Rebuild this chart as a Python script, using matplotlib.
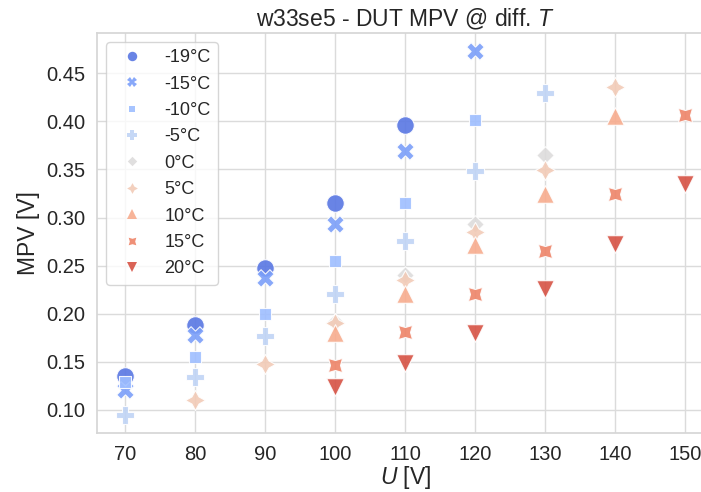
import matplotlib
matplotlib.use("Agg")
import matplotlib.pyplot as plt
import matplotlib.lines as mlines
import numpy as np
import seaborn as sns

sns.set_theme(style="whitegrid", rc={"grid.color": "0.86", "axes.edgecolor": "0.84"})
plt.rcParams["font.family"] = ["Liberation Sans", "DejaVu Sans"]
plt.rcParams["mathtext.fontset"] = "custom"
plt.rcParams["mathtext.it"] = "Liberation Sans:italic"
plt.rcParams["mathtext.rm"] = "Liberation Sans"

TEMPS = [-19, -15, -10, -5, 0, 5, 10, 15, 20]
TEMP_LABELS = [f"{t}°C" for t in TEMPS]

# bias voltage [V] and most probable value [V] per temperature
VOLTAGES = {
    -19: [70, 80, 90, 100, 110],
    -15: [70, 80, 90, 100, 110, 120],
    -10: [70, 80, 90, 100, 110, 120],
    -5: [70, 80, 90, 100, 110, 120, 130],
    0: [100, 110, 120, 130],
    5: [80, 90, 100, 110, 120, 130, 140],
    10: [100, 110, 120, 130, 140],
    15: [100, 110, 120, 130, 140, 150],
    20: [100, 110, 120, 130, 140, 150],
}
MPV = {
    -19: [0.135, 0.188, 0.248, 0.315, 0.396],
    -15: [0.121, 0.178, 0.237, 0.293, 0.369, 0.473],
    -10: [0.129, 0.155, 0.200, 0.255, 0.315, 0.401],
    -5: [0.095, 0.134, 0.177, 0.221, 0.276, 0.348, 0.429],
    0: [0.191, 0.240, 0.293, 0.365],
    5: [0.110, 0.148, 0.190, 0.235, 0.285, 0.349, 0.436],
    10: [0.180, 0.221, 0.271, 0.325, 0.406],
    15: [0.147, 0.181, 0.221, 0.265, 0.325, 0.407],
    20: [0.124, 0.149, 0.180, 0.226, 0.273, 0.335],
}

MARKERS = ["o", "X", (4, 0, 45), "P", (4, 0, 0), (4, 1, 0), "^", (4, 1, 45), "v"]
# star shaped markers look small at equal area, so bump them a bit
SIZE_SCALE = [1.0, 1.0, 1.0, 1.0, 1.0, 1.3, 1.0, 1.3, 1.0]
colors = sns.color_palette("coolwarm", len(TEMPS))

fig = plt.figure(figsize=(7.01, 4.92), dpi=100)
ax = fig.add_axes([0.139, 0.120, 0.878, 0.813])

handles = []
for temp, label, marker, scale, color in zip(TEMPS, TEMP_LABELS, MARKERS, SIZE_SCALE, colors):
    ax.scatter(
        VOLTAGES[temp],
        MPV[temp],
        s=160 * scale,
        marker=marker,
        facecolor=color,
        edgecolor="white",
        linewidth=0.8,
        alpha=0.9,
        zorder=3,
    )
    handles.append(
        mlines.Line2D(
            [], [], linestyle="", marker=marker, color=color,
            markeredgewidth=0,
            markersize=6.8 * scale ** 0.5, alpha=0.9, label=label,
        )
    )

ax.set_xticks(np.arange(70, 151, 10))
ax.set_yticks(np.arange(0.10, 0.46, 0.05))
ax.yaxis.set_major_formatter(matplotlib.ticker.FormatStrFormatter("%.2f"))
ax.tick_params(labelsize=14.5, pad=3)
ax.set_xlabel(r"$U$ [V]", fontsize=16.5, labelpad=0)
ax.set_ylabel("MPV [V]", fontsize=16.5, labelpad=4)
ax.set_title(r"w33se5 - DUT MPV @ diff. $T$", fontsize=16.5, pad=5)

ax.legend(
    handles=handles,
    loc="upper left",
    fontsize=13,
    labelspacing=0.52,
    borderaxespad=0.5,
    handlelength=2.0,
)

fig.savefig("out.png", dpi=100)
